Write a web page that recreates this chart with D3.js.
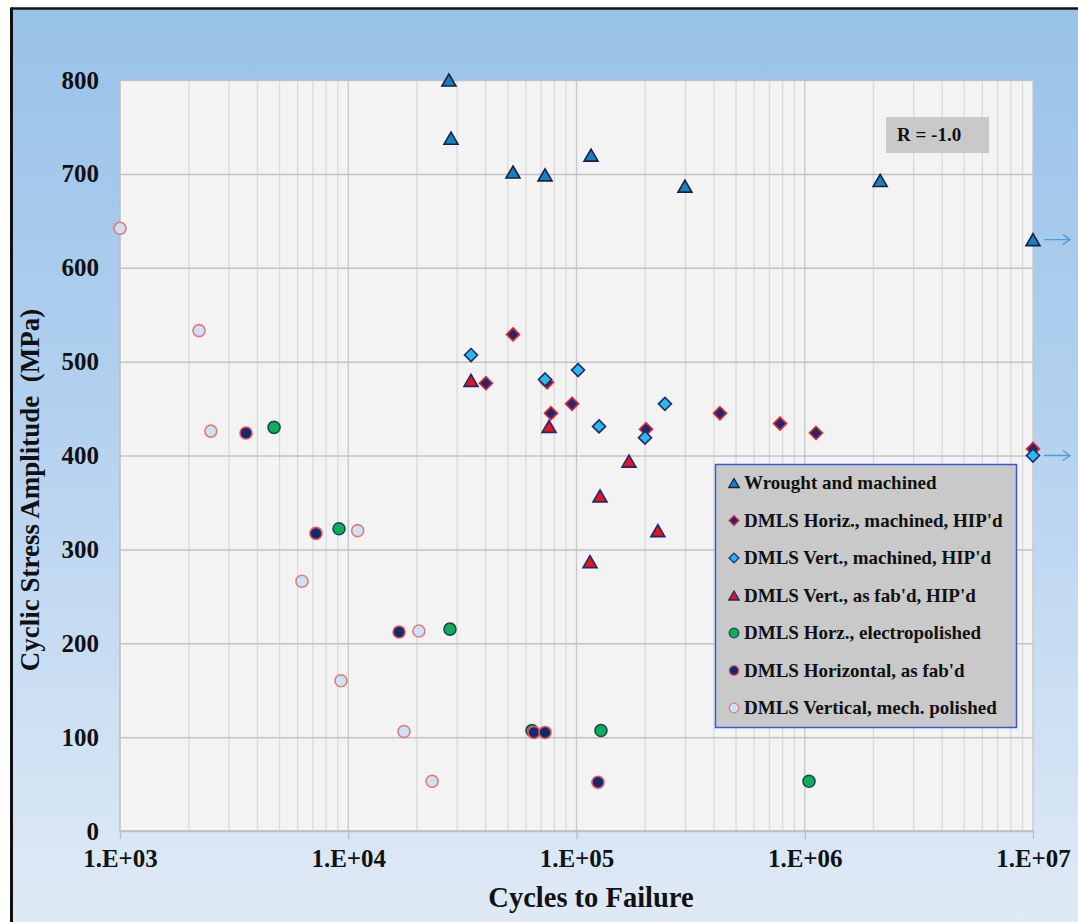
<!DOCTYPE html>
<html>
<head>
<meta charset="utf-8">
<script src="https://cdn.jsdelivr.net/npm/d3@7"></script>
<style>
  html, body { margin: 0; padding: 0; background: #ffffff; }
  svg { display: block; }
  text { font-family: "Liberation Serif", "Times New Roman", serif; font-weight: bold; fill: #111; }
</style>
</head>
<body>
<svg id="chart" width="1078" height="922"></svg>
<script>
// ---- Data: cycles to failure (N) and cyclic stress amplitude (MPa) ----
const seriesNames = [
  "Wrought and machined",
  "DMLS Horiz., machined, HIP'd",
  "DMLS Vert., machined, HIP'd",
  "DMLS Vert., as fab'd, HIP'd",
  "DMLS Horz., electropolished",
  "DMLS Horizontal, as fab'd",
  "DMLS Vertical, mech. polished"
];

const wroughtCycles = [27600, 28200, 52700, 72800, 115800, 298600, 2140000, 10000000];
const wroughtStress = [800, 738, 702, 699, 720, 687, 693, 630];

const horizHipCycles = [40100, 52700, 74300, 77300, 95600, 201600, 425000, 779000, 1120000, 10000000];
const horizHipStress = [477, 529, 478, 445, 455, 428, 445, 434, 424, 407];

const vertHipCycles = [34500, 72800, 101600, 125500, 199600, 244000, 10000000];
const vertHipStress = [507, 481, 491, 431, 419, 455, 400];

const vertFabHipCycles = [34500, 75800, 114600, 126800, 169800, 227300];
const vertFabHipStress = [480, 431, 287, 357, 394, 320];

const electroCycles = [4730, 9110, 27900, 63800, 128000, 1044000];
const electroStress = [430, 322, 215, 107, 107, 53];

const horizFabCycles = [3565, 7220, 16700, 65100, 72800, 124200];
const horizFabStress = [424, 317, 212, 105, 105, 52];

const vertPolCycles = [1000, 2220, 2500, 6270, 9290, 11000, 17550, 20400, 23300];
const vertPolStress = [642, 533, 426, 266, 160, 320, 106, 213, 53];

// Run-outs (unbroken specimens) flagged with arrows at the right edge
const runoutStress = [630, 400];

const xTickValues = [1e3, 1e4, 1e5, 1e6, 1e7];
const xTickLabels = ["1.E+03", "1.E+04", "1.E+05", "1.E+06", "1.E+07"];
const yTickValues = [0, 100, 200, 300, 400, 500, 600, 700, 800];

// ---- Styles per series ----
const styles = [
  { shape: "triangle", fill: "#1b7fc4", stroke: "#12233f" },
  { shape: "diamond",  fill: "#1f2a6e", stroke: "#e8262e" },
  { shape: "diamond",  fill: "#2cb8ea", stroke: "#1f2a6e" },
  { shape: "triangle", fill: "#e3141c", stroke: "#1f2a6e" },
  { shape: "circle",   fill: "#12ad5a", stroke: "#184d57" },
  { shape: "circle",   fill: "#132a6d", stroke: "#e3565b" },
  { shape: "circle",   fill: "#cfe2f4", stroke: "#e07c80" }
];

const seriesData = [
  [wroughtCycles, wroughtStress],
  [horizHipCycles, horizHipStress],
  [vertHipCycles, vertHipStress],
  [vertFabHipCycles, vertFabHipStress],
  [electroCycles, electroStress],
  [horizFabCycles, horizFabStress],
  [vertPolCycles, vertPolStress]
].map(([c, s], i) => ({
  name: seriesNames[i],
  style: styles[i],
  points: c.map((n, j) => ({ n: n, s: s[j] }))
}));

// ---- Layout ----
const svg = d3.select("#chart");
const W = 1078, H = 922;
const plot = { left: 120, right: 1033, top: 80, bottom: 831 };

const defs = svg.append("defs");
const grad = defs.append("linearGradient")
  .attr("id", "frameGrad").attr("x1", 0).attr("y1", 0).attr("x2", 0).attr("y2", 1);
grad.append("stop").attr("offset", "0%").attr("stop-color", "#99c2e8");
grad.append("stop").attr("offset", "45%").attr("stop-color", "#b3d1ef");
grad.append("stop").attr("offset", "100%").attr("stop-color", "#e0eaf6");

// Chart frame with a dark border on top and left
svg.append("rect").attr("x", 11).attr("y", 8).attr("width", W - 11).attr("height", H - 8)
  .attr("fill", "url(#frameGrad)");
svg.append("line").attr("x1", 11).attr("x2", W).attr("y1", 8.5).attr("y2", 8.5)
  .attr("stroke", "#111").attr("stroke-width", 2.5);
svg.append("line").attr("x1", 11.5).attr("x2", 11.5).attr("y1", 7.5).attr("y2", H)
  .attr("stroke", "#111").attr("stroke-width", 3);

// Plot area
svg.append("rect")
  .attr("x", plot.left).attr("y", plot.top)
  .attr("width", plot.right - plot.left).attr("height", plot.bottom - plot.top)
  .attr("fill", "#f3f3f3");

const x = d3.scaleLog().domain([1e3, 1e7]).range([plot.left, plot.right]);
const y = d3.scaleLinear().domain([0, 800]).range([plot.bottom, plot.top]);

// Vertical grid: minor lines at 2..9 per decade, darker lines at decades
const gridX = svg.append("g");
x.ticks().forEach(v => {
  const isDecade = Math.abs(Math.log10(v) - Math.round(Math.log10(v))) < 1e-9;
  if (v === 1e3) return;
  gridX.append("line")
    .attr("x1", x(v)).attr("x2", x(v)).attr("y1", plot.top).attr("y2", plot.bottom)
    .attr("stroke", isDecade ? "#c6c6c6" : "#dadada").attr("stroke-width", 1.3);
});

// Horizontal grid and y axis
const yAxis = d3.axisLeft(y).tickValues(yTickValues).tickSize(-(plot.right - plot.left)).tickPadding(20);
const gy = svg.append("g").attr("transform", `translate(${plot.left},0)`).call(yAxis);
gy.select(".domain").remove();
gy.selectAll(".tick line").attr("stroke", "#c2c2c2").attr("stroke-width", 1.5);
gy.selectAll(".tick text").attr("font-size", 25).attr("x", -21).attr("fill", "#111");

// Left axis line
svg.append("line").attr("x1", plot.left).attr("x2", plot.left).attr("y1", plot.top).attr("y2", plot.bottom)
  .attr("stroke", "#bcbcbc").attr("stroke-width", 1.5);

// X axis with decade ticks
const xAxis = d3.axisBottom(x).tickValues(xTickValues)
  .tickFormat((d, i) => xTickLabels[i]).tickSize(8).tickPadding(10);
const gx = svg.append("g").attr("transform", `translate(0,${plot.bottom})`).call(xAxis);
gx.select(".domain").attr("stroke", "#bcbcbc").attr("stroke-width", 1.5).attr("d", `M${plot.left},0H${plot.right}`);
gx.selectAll(".tick line").attr("stroke", "#bcbcbc").attr("stroke-width", 1.3);
gx.selectAll(".tick text").attr("font-size", 25).attr("fill", "#111");

// Axis titles
svg.append("text").attr("x", 591).attr("y", 907)
  .attr("text-anchor", "middle").attr("font-size", 28.5).text("Cycles to Failure");
svg.append("text")
  .attr("transform", `translate(39,490) rotate(-90)`)
  .attr("text-anchor", "middle").attr("font-size", 27)
  .attr("xml:space", "preserve").style("white-space", "pre")
  .text("Cyclic Stress Amplitude  (MPa)");

// Marker generator
function markerPath(shape, scale) {
  if (shape === "triangle") {
    const s = 14 * scale, h = s * 0.86;
    return `M0,${-h / 2}L${s / 2},${h / 2}L${-s / 2},${h / 2}Z`;
  }
  if (shape === "diamond") {
    const r = 6.5 * scale;
    return `M0,${-r}L${r},0L0,${r}L${-r},0Z`;
  }
  return d3.symbol().type(d3.symbolCircle).size(Math.PI * Math.pow(6 * scale, 2))();
}

// Data points, series in drawing order
seriesData.forEach(sd => {
  svg.append("g").selectAll("path")
    .data(sd.points).join("path")
    .attr("transform", d => `translate(${x(d.n)},${y(d.s)})`)
    .attr("d", markerPath(sd.style.shape, 1))
    .attr("fill", sd.style.fill)
    .attr("stroke", sd.style.stroke)
    .attr("stroke-width", 1.6)
    .attr("stroke-linejoin", "miter");
});

// Run-out arrows
const arrowColor = "#4aa0d6";
runoutStress.forEach(v => {
  const yy = y(v);
  const x0 = plot.right + 11, x1 = plot.right + 37;
  svg.append("path")
    .attr("d", `M${x0},${yy}H${x1}M${x1 - 7},${yy - 5}L${x1},${yy}L${x1 - 7},${yy + 5}`)
    .attr("fill", "none").attr("stroke", arrowColor).attr("stroke-width", 1.4);
});

// R ratio label
svg.append("rect").attr("x", 886).attr("y", 117).attr("width", 103).attr("height", 36).attr("fill", "#c9c9c9");
svg.append("text").attr("x", 897).attr("y", 141).attr("font-size", 19).text("R = -1.0");

// Legend
const lg = svg.append("g");
lg.append("rect").attr("x", 715.5).attr("y", 464.5).attr("width", 301).attr("height", 263)
  .attr("fill", "#c9c9c9").attr("stroke", "#3b5bd6").attr("stroke-width", 1.5);
seriesData.forEach((sd, i) => {
  const cy = 483 + i * 37.5;
  lg.append("path")
    .attr("transform", `translate(734,${cy})`)
    .attr("d", markerPath(sd.style.shape, sd.style.shape === "circle" ? 0.8 : 0.75))
    .attr("fill", sd.style.fill).attr("stroke", sd.style.stroke).attr("stroke-width", 1.3);
  lg.append("text").attr("x", 744).attr("y", cy + 6).attr("font-size", 19).text(sd.name);
});
</script>
</body>
</html>
